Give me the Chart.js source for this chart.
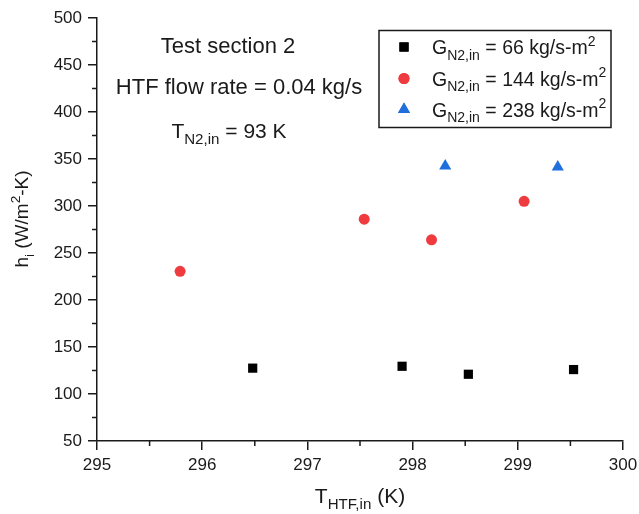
<!DOCTYPE html>
<html>
<head>
<meta charset="utf-8">
<script src="https://cdn.jsdelivr.net/npm/chart.js@4.4.1/dist/chart.umd.min.js"></script>
<style>
  html, body { margin: 0; padding: 0; background: #fff; }
  #wrap { width: 639px; height: 514px; }
</style>
</head>
<body>
<div id="wrap"><canvas id="htcChart"></canvas></div>
<script>
// data (T_HTF,in in K, h_i in W/m2-K)
const g66X = [296.48, 297.90, 298.53, 299.53];
const g66Y = [127.5, 129.5, 121, 126];
const g144X = [295.79, 297.54, 298.18, 299.06];
const g144Y = [230.5, 286, 264, 305];
const g238X = [298.31, 299.38];
const g238Y = [342.5, 341.5];

const seriesLabels = ["66", "144", "238"];
const xTicks = [295, 296, 297, 298, 299, 300];
const yTicks = [50, 100, 150, 200, 250, 300, 350, 400, 450, 500];

const FONT = "'Liberation Sans', Arial, sans-serif";
const INK = "#1a1a1a";

function toPoints(xs, ys) {
    return xs.map((x, i) => ({ x: x, y: ys[i] }));
}

// text with sub/superscripts: parts = [[text, 'sub'|'sup'|undefined], ...]
function richWidth(ctx, parts, size) {
    let w = 0;
    parts.forEach(p => {
        const s = p[1] ? size * 0.72 : size;
        ctx.font = s + "px " + FONT;
        w += ctx.measureText(p[0]).width;
    });
    return w;
}

function richText(ctx, parts, x, y, size, align) {
    let cx = x;
    if (align === "center") cx = x - richWidth(ctx, parts, size) / 2;
    ctx.textAlign = "left";
    ctx.textBaseline = "alphabetic";
    ctx.fillStyle = INK;
    parts.forEach(p => {
        const s = p[1] ? size * 0.72 : size;
        let dy = 0;
        if (p[1] === "sub") dy = size * 0.3;
        if (p[1] === "sup") dy = -size * 0.42;
        ctx.font = s + "px " + FONT;
        ctx.fillText(p[0], cx, y + dy);
        cx += ctx.measureText(p[0]).width;
    });
}

const styles = [
    { style: "rect", color: "#000000", radius: 6.5 },
    { style: "circle", color: "#ef3b3f", radius: 5.5 },
    { style: "triangle", color: "#1f6fdc", radius: 7 }
];

const extras = {
    id: "extras",
    afterDraw(chart) {
        const ctx = chart.ctx;
        const xs = chart.scales.x, ys = chart.scales.y;
        ctx.save();

        // minor ticks
        ctx.strokeStyle = INK;
        ctx.lineWidth = 1.5;
        ctx.beginPath();
        for (let i = 0; i < xTicks.length - 1; i++) {
            const px = xs.getPixelForValue(xTicks[i] + 0.5);
            ctx.moveTo(px, xs.top);
            ctx.lineTo(px, xs.top + 5);
        }
        for (let i = 0; i < yTicks.length - 1; i++) {
            const py = ys.getPixelForValue(yTicks[i] + 25);
            ctx.moveTo(ys.right, py);
            ctx.lineTo(ys.right - 5, py);
        }
        ctx.stroke();

        // notes
        richText(ctx, [["Test section 2"]], 228, 53, 22, "center");
        richText(ctx, [["HTF flow rate = 0.04 kg/s"]], 239, 94, 22, "center");
        richText(ctx, [["T"], ["N2,in", "sub"], [" = 93 K"]], 229, 138, 21, "center");

        // legend
        ctx.strokeStyle = INK;
        ctx.lineWidth = 1.5;
        ctx.strokeRect(379, 30.5, 232, 97);
        const rows = [47, 78.5, 109.5];
        seriesLabels.forEach((lab, i) => {
            const st = styles[i];
            ctx.fillStyle = st.color;
            ctx.strokeStyle = st.color;
            Chart.helpers.drawPoint(ctx, { pointStyle: st.style, radius: st.radius, borderWidth: 0 }, 404, rows[i]);
            ctx.fill();
            richText(ctx, [["G"], ["N2,in", "sub"], [" = " + lab + " kg/s-m"], ["2", "sup"]], 432, rows[i] + 7, 19.5);
        });

        // axis titles
        richText(ctx, [["T"], ["HTF,in", "sub"], [" (K)"]], 360, 503, 21, "center");
        ctx.save();
        ctx.translate(28, 219);
        ctx.rotate(-Math.PI / 2);
        richText(ctx, [["h"], ["i", "sub"], [" (W/m"], ["2", "sup"], ["-K)"]], 0, 0, 19, "center");
        ctx.restore();

        ctx.restore();
    }
};

const ctx = document.getElementById("htcChart").getContext("2d");

new Chart(ctx, {
    type: "scatter",
    data: {
        datasets: [
            { label: "66", data: toPoints(g66X, g66Y) },
            { label: "144", data: toPoints(g144X, g144Y) },
            { label: "238", data: toPoints(g238X, g238Y) }
        ].map((d, i) => Object.assign(d, {
            pointStyle: styles[i].style,
            pointRadius: styles[i].radius,
            pointHoverRadius: styles[i].radius,
            backgroundColor: styles[i].color,
            borderColor: styles[i].color,
            pointBorderWidth: 0
        }))
    },
    options: {
        responsive: true,
        maintainAspectRatio: false,
        animation: false,
        events: [],
        layout: { padding: { left: 0, right: 16, top: 18, bottom: 0 } },
        plugins: { legend: { display: false }, tooltip: { enabled: false } },
        scales: {
            x: {
                type: "linear",
                min: 295, max: 300,
                afterBuildTicks: s => { s.ticks = xTicks.map(v => ({ value: v })); },
                afterFit: s => { s.height = 73; s.paddingLeft = 0; s.paddingRight = 0; },
                border: { display: true, color: INK, width: 1.5 },
                grid: { drawOnChartArea: false, drawTicks: true, tickLength: 9, color: INK, lineWidth: 1.5 },
                ticks: { color: INK, padding: 5, font: { family: FONT, size: 17 } }
            },
            y: {
                type: "linear",
                min: 50, max: 500,
                afterBuildTicks: s => { s.ticks = yTicks.map(v => ({ value: v })); },
                afterFit: s => { s.width = 97; s.paddingTop = 0; s.paddingBottom = 0; },
                border: { display: true, color: INK, width: 1.5 },
                grid: { drawOnChartArea: false, drawTicks: true, tickLength: 9, color: INK, lineWidth: 1.5 },
                ticks: { color: INK, padding: 6, font: { family: FONT, size: 17 } }
            }
        }
    },
    plugins: [extras]
});
</script>
</body>
</html>
